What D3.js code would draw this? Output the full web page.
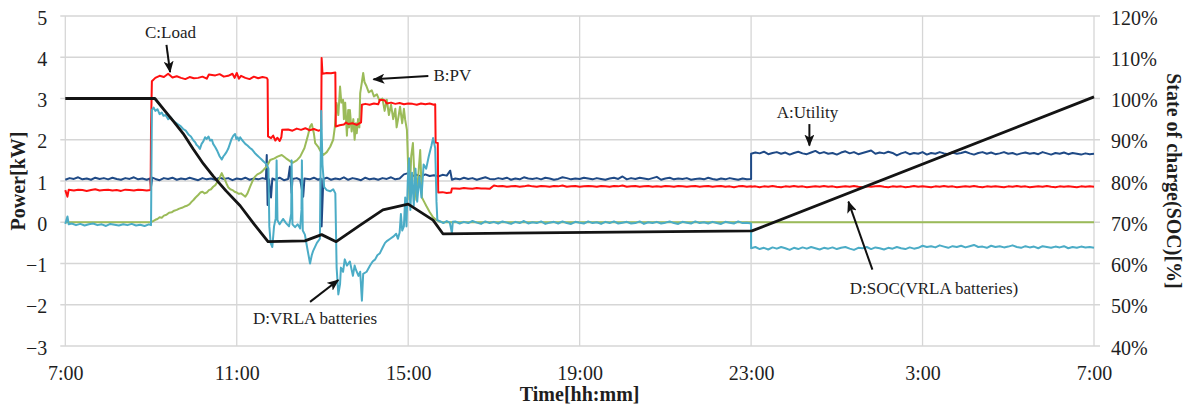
<!DOCTYPE html>
<html>
<head>
<meta charset="utf-8">
<script src="https://cdn.jsdelivr.net/npm/d3@7"></script>
<style>
  body { margin: 0; background: #fff; }
  svg { display: block; font-family: 'Liberation Serif', 'Times New Roman', serif; }
</style>
</head>
<body>
<div id="chart"></div>
<script>
// Time is in hours after 7:00 (0 .. 24), power in kW, SOC in %

const hourTicks = [0, 4, 8, 12, 16, 20, 24]
const hourLabels = ['7:00', '11:00', '15:00', '19:00', '23:00', '3:00', '7:00']
const powerTicks = [-3, -2, -1, 0, 1, 2, 3, 4, 5]
const socTicks = [40, 50, 60, 70, 80, 90, 100, 110, 120]

// A: Utility
const utilityDay = [[0,1.03],[0.1,1.07],[0.2,1.05],[0.3,1.09],[0.4,1.04],[0.5,1.06],[0.6,1.03],[0.7,1.08],[0.8,1.05],[0.9,1.07],
  [1.0,1.04],[1.1,1.08],[1.2,1.05],[1.3,1.03],[1.4,1.07],[1.5,1.05],[1.6,1.09],[1.7,1.04],[1.8,1.06],[1.9,1.03],[1.98,1.06],[2.0,0.86],[2.03,1.08],
  [2.1,1.05],[2.2,1.02],[2.3,1.07],[2.4,1.05],[2.5,1.08],[2.6,1.03],[2.7,1.06],[2.8,1.04],[2.9,1.08],[3.0,1.05],[3.1,1.02],[3.2,1.07],[3.3,1.04],
  [3.4,1.06],[3.5,1.03],[3.6,1.08],[3.7,1.05],[3.8,1.07],[3.9,1.02],[4.0,1.06],[4.1,1.04],[4.2,1.08],[4.3,1.03],[4.4,1.06],[4.5,1.04],[4.6,1.07],
  [4.68,1.05],[4.7,1.63],[4.72,0.42],[4.75,1.04],[4.8,0.6],[4.83,1.06],[4.9,1.03],[5.0,1.08],[5.1,1.02],[5.2,1.05],[5.24,1.35],[5.26,1.04],
  [5.28,0.71],[5.3,1.05],[5.4,1.07],[5.48,1.03],[5.55,0.62],[5.58,1.06],[5.7,1.04],[5.8,1.08],[5.9,1.03],[5.96,1.06],[5.98,-0.1],[6.02,1.05],
  [6.1,1.08],[6.2,1.03],[6.3,1.06],[6.4,1.04],[6.5,1.09],[6.6,1.03],[6.7,1.07],[6.8,1.05],[6.9,1.02],[7.0,1.08],[7.1,1.04],[7.2,1.06],[7.3,1.03],
  [7.4,1.07],[7.5,1.05],[7.6,1.09],[7.7,1.04],[7.8,1.06],[7.9,1.16],[8.0,1.19],[8.1,1.12],[8.2,1.15],[8.3,1.11],[8.4,1.16],[8.5,1.12],[8.6,1.14],
  [8.7,1.11],[8.8,1.15],[8.9,1.13],[8.98,1.25],[9.02,1.03]]
const utilityEvening = [1.06,1.04,1.08,1.05,1.07,1.03,1.06,1.09,1.05,1.04,
  1.07,1.05,1.08,1.03,1.06,1.04,1.09,1.06,1.05,1.07,
  1.04,1.08,1.06,1.03,1.05,1.09,1.07,1.04,1.06,1.05,
  1.08,1.06,1.04,1.07,1.05,1.03,1.06,1.08,1.05,1.11,
  1.04,1.07,1.05,1.08,1.06,1.04,1.07,1.1,1.03,1.06,
  1.08,1.04,1.06,1.05,1.07,1.03,1.05,1.06,1.04,1.08,
  1.05,1.03,1.06,1.04,1.07,1.05,1.03,1.06,1.04,1.05]
const utilityNight = [1.66,1.69,1.67,1.71,1.65,1.68,1.7,1.66,1.69,1.64,
  1.68,1.71,1.67,1.65,1.69,1.73,1.67,1.7,1.66,1.68,
  1.64,1.69,1.72,1.67,1.7,1.65,1.68,1.71,1.74,1.66,
  1.69,1.67,1.71,1.68,1.62,1.67,1.7,1.65,1.68,1.66,
  1.7,1.64,1.68,1.66,1.7,1.67,1.65,1.69,1.66,1.68,
  1.71,1.67,1.64,1.68,1.7,1.66,1.69,1.65,1.67,1.7,
  1.66,1.68,1.64,1.67,1.69,1.66,1.68,1.65,1.7,1.67,
  1.64,1.68,1.66,1.69,1.65,1.68,1.66,1.64,1.67,1.65,1.66]

// B: PV
const pvDay = [[0,0],[2.0,0],[2.05,0.03],[2.1,0.06],[2.15,0.08],[2.2,0.12],[2.25,0.11],[2.3,0.16],[2.36,0.18],[2.42,0.23],[2.48,0.24],
  [2.54,0.28],[2.6,0.3],[2.66,0.33],[2.72,0.35],[2.78,0.38],[2.84,0.4],[2.9,0.44],[2.95,0.5],[2.99,0.54],[3.04,0.6],[3.1,0.66],[3.15,0.72],
  [3.2,0.74],[3.25,0.7],[3.3,0.72],[3.35,0.78],[3.4,0.8],[3.45,0.86],[3.5,0.9],[3.55,0.98],[3.6,1.08],[3.65,1.19],[3.69,1.1],[3.72,1.04],
  [3.76,0.94],[3.8,0.85],[3.85,0.8],[3.9,0.78],[3.95,0.74],[4.0,0.72],[4.05,0.69],[4.1,0.7],[4.15,0.66],[4.2,0.62],[4.25,0.7],[4.31,0.86],
  [4.36,0.98],[4.42,1.1],[4.48,1.16],[4.54,1.19],[4.6,1.24],[4.65,1.3],[4.7,1.35],[4.78,1.51],[4.88,1.55],[4.95,1.59],[5.05,1.63],[5.15,1.55],
  [5.3,1.44],[5.4,1.5],[5.48,1.59],[5.58,1.8],[5.66,2.1],[5.71,2.32],[5.75,2.38],[5.8,2.15],[5.83,1.92],[5.9,1.83],[5.94,1.75],[6.02,1.63],
  [6.1,1.7],[6.18,1.83],[6.25,2.0],[6.29,2.32],[6.33,2.89],[6.37,2.6],[6.41,3.29],[6.44,2.9],[6.48,2.97],[6.5,2.5],[6.53,2.9],[6.57,2.1],
  [6.6,2.72],[6.62,2.3],[6.64,2.72],[6.68,2.2],[6.72,2.5],[6.75,2.0],[6.78,2.4],[6.8,2.16],[6.83,2.5],[6.86,2.3],[6.88,3.13],[6.92,3.4],
  [6.95,3.62],[6.98,3.4],[7.03,3.29],[7.08,3.15],[7.15,3.2],[7.2,3.05],[7.27,3.1],[7.33,2.95],[7.4,3.0],[7.45,2.7],[7.5,2.97],[7.55,2.6],
  [7.6,2.85],[7.65,2.5],[7.7,2.75],[7.73,2.3],[7.78,2.6],[7.81,2.8],[7.86,2.4],[7.9,2.75],[7.93,2.48],[7.97,2.24],[8.0,1.3],[8.03,0.55],
  [8.07,1.6],[8.11,1.92],[8.15,1.0],[8.19,0.54],[8.24,1.2],[8.28,1.75],[8.32,0.6],[8.37,0.5],[8.42,0.4],[8.5,0.25],[8.58,0.12],[8.65,0.06],
  [8.72,0.02],[8.8,0],[24,0]]

// C: Load
const loadDay = [[0,0.78],[0.05,0.62],[0.08,0.79],[0.2,0.77],[0.3,0.79],[0.4,0.78],[0.5,0.76],[0.6,0.78],[0.7,0.8],[0.8,0.77],[0.9,0.78],
  [1.0,0.79],[1.1,0.77],[1.2,0.78],[1.3,0.76],[1.4,0.79],[1.5,0.78],[1.6,0.77],[1.7,0.79],[1.8,0.78],[1.9,0.77],[1.99,0.78],[2.0,2.3],
  [2.02,3.42],[2.1,3.5],[2.2,3.55],[2.3,3.52],[2.4,3.6],[2.5,3.51],[2.6,3.54],[2.7,3.5],[2.8,3.47],[2.9,3.52],[3.0,3.49],[3.1,3.5],[3.2,3.53],
  [3.3,3.48],[3.35,3.58],[3.5,3.56],[3.6,3.59],[3.7,3.53],[3.8,3.55],[3.9,3.6],[3.95,3.5],[4.0,3.62],[4.05,3.48],[4.1,3.55],[4.2,3.5],
  [4.3,3.47],[4.4,3.53],[4.5,3.49],[4.6,3.52],[4.7,3.5],[4.72,3.46],[4.73,2.08],[4.8,2.04],[4.85,2.1],[4.9,1.98],[4.95,2.05],[5.0,1.97],
  [5.04,2.06],[5.06,2.24],[5.2,2.25],[5.3,2.22],[5.4,2.27],[5.5,2.24],[5.6,2.28],[5.7,2.23],[5.8,2.26],[5.9,2.22],[5.97,2.24],[5.98,3.98],
  [6.0,3.6],[6.1,3.62],[6.2,3.61],[6.3,3.63],[6.31,2.32],[6.4,2.35],[6.5,2.37],[6.55,2.42],[6.6,2.38],[6.7,2.4],[6.8,2.36],[6.9,2.42],
  [6.92,2.85],[7.0,2.87],[7.1,2.85],[7.2,2.88],[7.3,2.86],[7.34,2.97],[7.45,2.96],[7.5,2.88],[7.6,2.9],[7.7,2.87],[7.8,2.89],[7.9,2.86],
  [8.0,2.88],[8.1,2.87],[8.2,2.85],[8.3,2.88],[8.4,2.86],[8.5,2.88],[8.6,2.85],[8.63,2.86],[8.64,1.93],[8.69,1.92],[8.7,0.72],[8.8,0.73],
  [8.9,0.71],[9.0,0.72],[9.02,0.82]]
const loadEvening = [0.82,0.81,0.83,0.82,0.81,0.83,0.82,0.82,0.81,0.89,
  0.87,0.88,0.86,0.87,0.88,0.86,0.87,0.89,0.87,0.86,
  0.88,0.87,0.86,0.88,0.87,0.89,0.86,0.87,0.88,0.86,
  0.87,0.88,0.87,0.86,0.88,0.87,0.86,0.88,0.87,0.89,
  0.86,0.87,0.88,0.86,0.87,0.88,0.86,0.87,0.86,0.88,
  0.87,0.86,0.88,0.87,0.86,0.87,0.88,0.86,0.87,0.88,
  0.86,0.87,0.88,0.86,0.87,0.85,0.87,0.88,0.86,0.87]
const loadNight = [0.86,0.87,0.85,0.87,0.86,0.88,0.86,0.85,0.87,0.86,
  0.88,0.86,0.87,0.85,0.86,0.87,0.86,0.88,0.86,0.87,
  0.85,0.86,0.87,0.86,0.88,0.86,0.85,0.87,0.86,0.87,
  0.88,0.86,0.85,0.87,0.86,0.87,0.85,0.86,0.88,0.86,
  0.87,0.86,0.85,0.87,0.86,0.88,0.86,0.87,0.85,0.86,
  0.87,0.86,0.88,0.86,0.85,0.87,0.86,0.87,0.86,0.85,
  0.87,0.86,0.88,0.86,0.87,0.85,0.86,0.87,0.86,0.88,
  0.86,0.85,0.87,0.86,0.87,0.86,0.85,0.87,0.86,0.87,0.86]

// D: VRLA batteries
const batteryDay = [[0,-0.04],[0.05,0.14],[0.08,-0.05],[0.15,-0.03],[0.25,-0.07],[0.35,-0.04],[0.45,-0.08],[0.55,-0.05],[0.65,-0.03],
  [0.75,-0.07],[0.85,-0.05],[0.95,-0.09],[1.05,-0.04],[1.15,-0.06],[1.25,-0.08],[1.35,-0.05],[1.45,-0.07],[1.55,-0.04],[1.65,-0.08],
  [1.75,-0.06],[1.85,-0.09],[1.95,-0.05],[2.0,-0.07],[2.02,2.72],[2.06,2.78],[2.1,2.7],[2.15,2.74],[2.2,2.62],[2.25,2.66],[2.29,2.58],
  [2.34,2.6],[2.4,2.5],[2.46,2.54],[2.52,2.46],[2.57,2.42],[2.62,2.38],[2.68,2.34],[2.75,2.26],[2.81,2.22],[2.88,2.12],[2.93,2.08],
  [2.99,1.98],[3.03,1.94],[3.06,1.88],[3.1,1.84],[3.14,1.78],[3.18,1.9],[3.22,1.96],[3.26,2.06],[3.3,2.02],[3.34,2.08],[3.38,1.98],
  [3.42,2.0],[3.45,1.9],[3.5,1.82],[3.55,1.72],[3.6,1.6],[3.65,1.52],[3.69,1.6],[3.72,1.64],[3.76,1.7],[3.8,1.78],[3.84,1.9],[3.88,2.02],
  [3.92,2.1],[3.96,2.14],[3.99,2.02],[4.02,2.06],[4.05,1.98],[4.08,2.06],[4.12,2.0],[4.16,1.95],[4.2,1.9],[4.25,1.86],[4.31,1.8],[4.36,1.76],
  [4.42,1.68],[4.48,1.62],[4.54,1.56],[4.58,1.52],[4.62,1.48],[4.66,1.44],[4.7,1.4],[4.74,1.3],
  [4.76,-0.1],[4.79,-0.5],[4.83,-0.6],[4.87,-0.1],[4.91,0.1],[4.93,1.5],[4.95,0.05],[5.0,-0.05],[5.08,0.08],[5.15,-0.02],[5.22,-0.1],
  [5.27,0.2],[5.28,1.5],[5.3,-0.05],[5.36,-0.12],[5.42,-0.05],[5.48,-0.15],[5.51,0.3],[5.52,1.5],[5.54,-0.2],[5.59,-0.3],[5.64,-0.6],
  [5.71,-1.0],[5.75,-0.8],[5.78,-0.7],[5.87,-0.5],[5.94,-0.4],[5.97,2.7],[6.0,1.4],[6.04,0.85],[6.1,0.78],[6.18,0.75],[6.25,0.8],[6.3,0.7],
  [6.33,-1.1],[6.37,-1.75],[6.41,-1.5],[6.43,-1.1],[6.48,-1.2],[6.52,-0.9],[6.57,-1.05],[6.64,-0.95],[6.71,-1.3],[6.75,-1.05],[6.78,-1.15],
  [6.84,-1.3],[6.88,-1.2],[6.92,-1.9],[6.95,-1.25],[7.03,-1.2],[7.11,-1.05],[7.17,-0.95],[7.23,-0.9],[7.28,-0.8],[7.34,-0.75],[7.41,-0.6],
  [7.46,-0.5],[7.51,-0.45],[7.58,-0.4],[7.65,-0.35],[7.72,-0.28],[7.76,-0.4],[7.8,-0.25],[7.83,0.2],[7.86,-0.2],[7.9,-0.1],[7.93,0.6],
  [7.96,-0.1],[7.99,1.0],[8.02,1.55],[8.05,0.3],[8.09,1.2],[8.13,0.4],[8.17,1.3],[8.21,0.5],[8.26,1.1],[8.31,0.6],[8.36,1.4],[8.42,1.3],
  [8.48,1.6],[8.54,1.85],[8.58,2.04],[8.63,1.8],[8.66,0.5],[8.68,0.05],[8.75,0.02],[8.82,-0.02],[8.9,0.03],[8.97,-0.01],[9.02,-0.26],[9.04,0.01]]
const batteryEvening = [0.02,-0.03,0.01,-0.02,0.03,-0.01,-0.04,0.02,-0.02,0.01,
  -0.03,0.02,-0.01,-0.04,0.01,-0.02,0.03,-0.03,0.0,-0.02,
  0.02,-0.04,-0.01,0.01,-0.03,0.02,-0.02,-0.04,0.01,-0.01,
  -0.03,0.02,-0.02,0.0,-0.04,0.01,-0.02,0.02,-0.03,-0.01,
  0.01,-0.03,-0.02,0.02,-0.04,0.0,-0.02,0.01,-0.03,-0.01,
  0.02,-0.02,-0.04,0.01,-0.01,-0.03,0.02,-0.02,0.0,-0.03,
  0.01,-0.02,-0.04,0.01,-0.01,-0.03,0.02,-0.02,-0.01,-0.03]
const batteryNight = [-0.63,-0.6,-0.65,-0.62,-0.66,-0.61,-0.64,-0.6,-0.63,-0.67,
  -0.62,-0.65,-0.61,-0.64,-0.6,-0.63,-0.66,-0.62,-0.64,-0.61,
  -0.65,-0.62,-0.6,-0.64,-0.67,-0.62,-0.63,-0.6,-0.65,-0.61,
  -0.63,-0.66,-0.62,-0.64,-0.6,-0.63,-0.65,-0.61,-0.64,-0.62,
  -0.57,-0.6,-0.58,-0.61,-0.56,-0.59,-0.62,-0.58,-0.6,-0.57,
  -0.61,-0.58,-0.55,-0.6,-0.59,-0.62,-0.57,-0.6,-0.58,-0.61,
  -0.59,-0.56,-0.6,-0.62,-0.58,-0.61,-0.59,-0.63,-0.58,-0.6,
  -0.62,-0.59,-0.61,-0.58,-0.63,-0.6,-0.62,-0.59,-0.61,-0.6,-0.62]

// SOC (VRLA batteries), right axis
const soc = [[0,100],[2.09,100],[2.3,97.3],[2.52,94.5],[2.75,91.5],[2.98,87.8],[3.22,84.2],[3.45,81.2],[3.75,77.6],[4.08,74.0],
  [4.4,69.6],[4.73,65.3],[5.59,65.5],[5.98,67.0],[6.32,65.3],[6.6,67.3],[6.88,69.3],[7.41,73.0],[8.0,74.4],[8.58,70.5],[8.81,67.2],
  [16.02,67.9],[24,100.4]]

// Annotations, positioned in data units (hours, kW)
const notes = [
  {text: 'C:Load', t: 1.86, v: 4.62, from: [2.36, 4.3], to: [2.445, 3.64]},
  {text: 'B:PV', t: 8.59, v: 3.57, from: [8.47, 3.545], to: [7.19, 3.465]},
  {text: 'A:Utility', t: 16.6, v: 2.68, from: [17.36, 2.38], to: [17.36, 1.86]},
  {text: 'D:VRLA batteries', t: 4.38, v: -2.33, from: [5.71, -1.93], to: [6.37, -1.4], box: true},
  {text: 'D:SOC(VRLA batteries)', t: 18.3, v: -1.59, from: [18.83, -1.15], to: [18.27, 0.5]}
]

const width = 1186
const height = 407
const margin = {left: 65.3, right: 92, top: 16, bottom: 61}

const svg = d3.select('#chart').append('svg')
  .attr('width', width)
  .attr('height', height)

const x = d3.scaleLinear().domain([0, 24]).range([margin.left, width - margin.right])
const y = d3.scaleLinear().domain([-3, 5]).range([height - margin.bottom, margin.top])
const ySoc = d3.scaleLinear().domain([40, 120]).range([height - margin.bottom, margin.top])

// join day points with the evenly sampled evening / night stretches
function joinSeries(day, evening, night) {
  const ev = evening.map((v, i) => [9.1 + i * (16 - 9.1) / (evening.length - 1), v])
  const ni = night.map((v, i) => [16 + i * 8 / (night.length - 1), v])
  return day.concat(ev, ni)
}
const series = [
  {name: 'A:Utility', color: '#1F4A86', data: joinSeries(utilityDay, utilityEvening, utilityNight)},
  {name: 'B:PV', color: '#9BBB59', data: pvDay},
  {name: 'C:Load', color: '#FF1010', data: joinSeries(loadDay, loadEvening, loadNight)},
  {name: 'D:VRLA batteries', color: '#4BACC6', data: joinSeries(batteryDay, batteryEvening, batteryNight)}
]

const gridColor = '#d6d6d6'
const textColor = '#1e1e1e'

// Gridlines
svg.append('g').selectAll('line')
  .data(powerTicks)
  .join('line')
  .attr('x1', x(0) - 5).attr('x2', x(24) + 6)
  .attr('y1', d => y(d)).attr('y2', d => y(d))
  .style('stroke', gridColor).style('stroke-width', 1.3)
svg.append('g').selectAll('line')
  .data(hourTicks)
  .join('line')
  .attr('x1', d => x(d)).attr('x2', d => x(d))
  .attr('y1', y(5)).attr('y2', y(-3))
  .style('stroke', gridColor).style('stroke-width', 1.3)

// Axes (labels only)
function styleAxis(g) {
  g.select('.domain').remove()
  g.selectAll('line').remove()
  g.selectAll('text')
    .style('font-family', "'Liberation Serif', 'Times New Roman', serif")
    .style('font-size', '20px')
    .style('fill', textColor)
}
svg.append('g')
  .attr('transform', `translate(${x(0)},0)`)
  .call(d3.axisLeft(y).tickValues(powerTicks).tickSize(0).tickPadding(18))
  .call(styleAxis)
  .selectAll('text').attr('dy', '0.4em')
svg.append('g')
  .attr('transform', `translate(${x(24)},0)`)
  .call(d3.axisRight(ySoc).tickValues(socTicks).tickSize(0).tickPadding(17).tickFormat(d => d + '%'))
  .call(styleAxis)
  .selectAll('text').attr('dy', '0.4em')
svg.append('g')
  .attr('transform', `translate(0,${y(-3)})`)
  .call(d3.axisBottom(x).tickValues(hourTicks).tickSize(0).tickPadding(20).tickFormat((d, i) => hourLabels[i]))
  .call(styleAxis)

// Axis titles
svg.append('text')
  .attr('transform', `translate(25,${(y(5) + y(-3)) / 2}) rotate(-90)`)
  .style('text-anchor', 'middle')
  .style('font-size', '20px').style('font-weight', 'bold').style('fill', textColor)
  .text('Power[kW]')
svg.append('text')
  .attr('transform', `translate(1167,${(y(5) + y(-3)) / 2}) rotate(90)`)
  .style('text-anchor', 'middle')
  .style('font-size', '20px').style('font-weight', 'bold').style('fill', textColor)
  .text('State of charge(SOC)[%]')
svg.append('text')
  .attr('x', (x(0) + x(24)) / 2).attr('y', 401)
  .style('text-anchor', 'middle')
  .style('font-size', '20px').style('font-weight', 'bold').style('fill', textColor)
  .text('Time[hh:mm]')

// Series
const line = d3.line().x(d => x(d[0])).y(d => y(d[1]))
svg.append('g').selectAll('path')
  .data(series)
  .join('path')
  .attr('d', d => line(d.data))
  .style('fill', 'none')
  .style('stroke', d => d.color)
  .style('stroke-width', 2)
  .style('stroke-linejoin', 'round')

const socLine = d3.line().x(d => x(d[0])).y(d => ySoc(d[1]))
svg.append('path')
  .attr('d', socLine(soc))
  .style('fill', 'none')
  .style('stroke', '#141414')
  .style('stroke-width', 2.8)
  .style('stroke-linejoin', 'round')

// Arrow marker
svg.append('defs').append('marker')
  .attr('id', 'arrow')
  .attr('markerUnits', 'userSpaceOnUse')
  .attr('viewBox', '0 0 12 10')
  .attr('refX', 11).attr('refY', 5)
  .attr('markerWidth', 12).attr('markerHeight', 10)
  .attr('orient', 'auto')
  .append('path')
  .attr('d', 'M0,0 L12,5 L0,10 L3,5 Z')
  .style('fill', '#111')

// Annotations
const gNotes = svg.append('g')
notes.forEach(n => {
  const txt = gNotes.append('text')
    .attr('x', x(n.t)).attr('y', y(n.v))
    .attr('dy', '0.35em')
    .style('font-size', '17px').style('fill', textColor)
    .text(n.text)
  if (n.box) {
    const bb = txt.node().getBBox()
    gNotes.insert('rect', 'text')
      .attr('x', bb.x - 6).attr('y', bb.y - 3)
      .attr('width', bb.width + 15).attr('height', bb.height + 8)
      .style('fill', '#fff')
  }
  gNotes.append('line')
    .attr('x1', x(n.from[0])).attr('y1', y(n.from[1]))
    .attr('x2', x(n.to[0])).attr('y2', y(n.to[1]))
    .style('stroke', '#111').style('stroke-width', 2)
    .attr('marker-end', 'url(#arrow)')
})
</script>
</body>
</html>
